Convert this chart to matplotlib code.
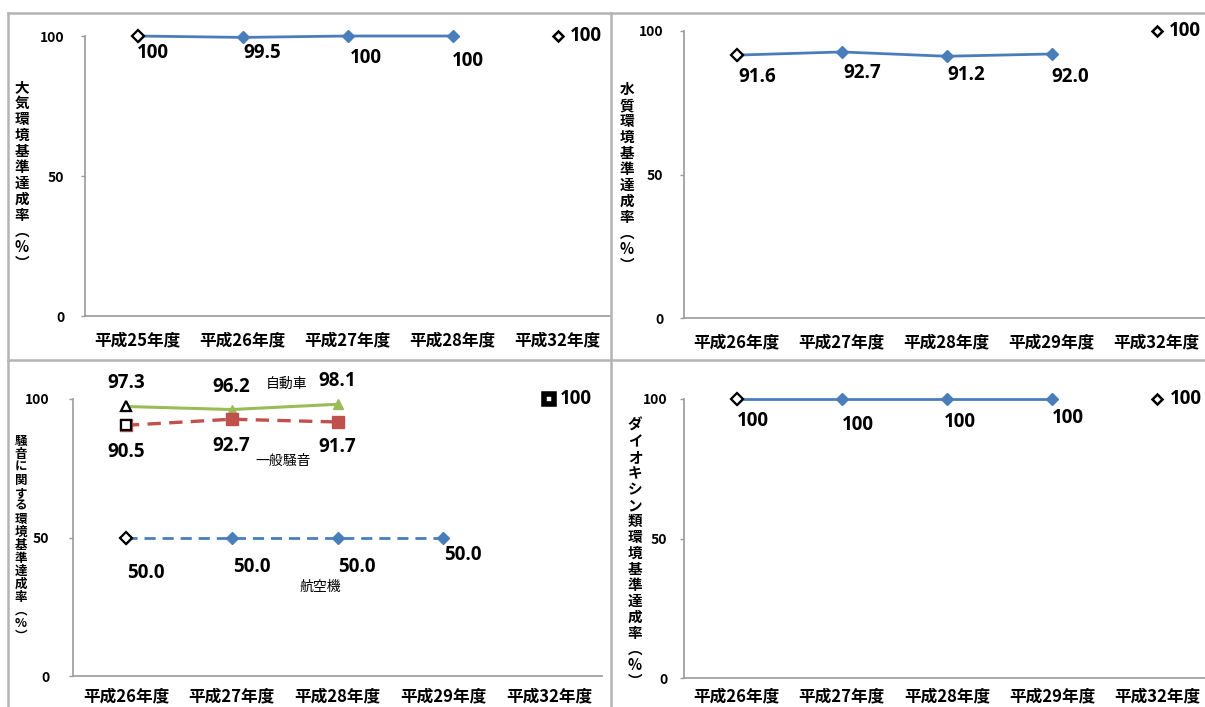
import matplotlib
matplotlib.use("Agg")
import matplotlib.pyplot as plt
from matplotlib.lines import Line2D

plt.rcParams['font.family'] = ['Noto Sans CJK JP', 'DejaVu Sans']

# ---- data ----
air_years = ['平成25年度', '平成26年度', '平成27年度', '平成28年度', '平成32年度']
air_rate = [100, 99.5, 100, 100]
air_target = 100

water_years = ['平成26年度', '平成27年度', '平成28年度', '平成29年度', '平成32年度']
water_rate = [91.6, 92.7, 91.2, 92.0]
water_target = 100

noise_years = ['平成26年度', '平成27年度', '平成28年度', '平成29年度', '平成32年度']
noise_car = [97.3, 96.2, 98.1]
noise_general = [90.5, 92.7, 91.7]
noise_aircraft = [50.0, 50.0, 50.0, 50.0]
noise_target = 100

dioxin_years = ['平成26年度', '平成27年度', '平成28年度', '平成29年度', '平成32年度']
dioxin_rate = [100, 100, 100, 100]
dioxin_target = 100

W, H = 1205, 707
BLUE = '#4a7ebb'
GREEN = '#9bbb59'
RED = '#c0504d'
NUM_FONT = ['Open Sans', 'Noto Sans CJK JP']
NUM_SIZE = 13.5
PX = 0.72  # pixels -> points at 100 dpi

fig = plt.figure(figsize=(W / 100, H / 100), dpi=100)
fig.patch.set_facecolor('white')


def make_axes(left, top, width, height):
    ax = fig.add_axes([left / W, (H - top - height) / H, width / W, height / H])
    return ax


def style_axes(ax, years, ylab, ylab_xy, ylab_size, ypad, xpad):
    ax.set_xlim(-0.5, len(years) - 0.5)
    ax.set_ylim(0, 100)
    ax.set_xticks(range(len(years)))
    ax.set_xticklabels(years, fontsize=12, fontweight='bold')
    ax.set_yticks([0, 50, 100])
    ax.set_yticklabels(['0', '50', '100'], fontsize=10, fontweight='bold')
    for s in ('top', 'right'):
        ax.spines[s].set_visible(False)
    for s in ('left', 'bottom'):
        ax.spines[s].set_color('#9a9a9a')
        ax.spines[s].set_linewidth(1.2)
    ax.tick_params(axis='x', length=0, pad=xpad)
    ax.tick_params(axis='y', length=3, width=1, color='#9a9a9a', pad=ypad)
    ax.patch.set_alpha(0)
    fig.text(ylab_xy[0] / W, 1 - ylab_xy[1] / H, '\n'.join(ylab),
             fontsize=ylab_size, fontweight='bold', ha='center', va='center',
             linespacing=1.0)


def series(ax, values, color, marker, ms, ls='-', lw=2.0):
    x = list(range(len(values)))
    ax.plot(x, values, color=color, lw=lw, ls=ls, marker=marker, ms=ms,
            markerfacecolor=color, markeredgecolor=color, clip_on=False, zorder=3)
    ax.plot([0], [values[0]], ls='none', marker=marker, ms=ms * 0.9,
            markerfacecolor='white', markeredgecolor='black', mew=1.6,
            clip_on=False, zorder=4)


def value_labels(ax, values, offsets, fmt):
    for i, (v, (dx, dy)) in enumerate(zip(values, offsets)):
        ax.annotate(fmt.format(v), (i, v), xytext=(dx * PX, -dy * PX),
                    textcoords='offset points', ha='center', va='center',
                    fontsize=NUM_SIZE, fontweight='bold', family=NUM_FONT,
                    annotation_clip=False, zorder=5)


def target(ax, idx, value, marker, ms, text_dx=12, mew=1.8):
    ax.plot([idx], [value], ls='none', marker=marker, ms=ms,
            markerfacecolor='white', markeredgecolor='black', mew=mew,
            clip_on=False, zorder=4)
    ax.annotate(f'{value:g}', (idx, value), xytext=(text_dx * PX, 0),
                textcoords='offset points', ha='left', va='center',
                fontsize=NUM_SIZE, fontweight='bold', family=NUM_FONT,
                annotation_clip=False)


# ---- 大気 ----
ax1 = make_axes(85, 36, 525, 280)
style_axes(ax1, air_years, '大気環境基準達成率︵%︶', (22, 175), 10.5, 12, 11)
series(ax1, air_rate, BLUE, 'D', 6.5)
value_labels(ax1, air_rate, [(15, 17), (20, 16), (18, 22), (15, 25)], '{:g}')
target(ax1, 4, air_target, 'D', 5.5)

# ---- 水質 ----
ax2 = make_axes(684, 31, 525, 287)
style_axes(ax2, water_years, '水質環境基準達成率︵%︶', (627, 177), 10.5, 12, 11)
series(ax2, water_rate, BLUE, 'D', 6.5)
value_labels(ax2, water_rate, [(21, 22), (21, 21), (20, 19), (19, 23)], '{:.1f}')
target(ax2, 4, water_target, 'D', 5.5)

# ---- 騒音 ----
ax3 = make_axes(73, 399, 529, 277)
style_axes(ax3, noise_years, '騒音に関する環境基準達成率︵%︶', (21, 539), 9, 14, 8)
series(ax3, noise_car, GREEN, '^', 7.5, lw=2.2)
series(ax3, noise_general, RED, 's', 8, ls=(0, (4, 2.5)), lw=2.4)
series(ax3, noise_aircraft, BLUE, 'D', 6.5, ls=(0, (4, 2.5)), lw=2.0)
value_labels(ax3, noise_car, [(0, -23), (0, -23), (0, -23)], '{:.1f}')
value_labels(ax3, noise_general, [(0, 27), (0, 27), (0, 25)], '{:.1f}')
value_labels(ax3, noise_aircraft, [(20, 35), (20, 30), (19, 30), (20, 18)], '{:.1f}')
ax3.text(1.52, 105.4, '自動車', fontsize=10, ha='center', va='center')
ax3.text(1.49, 77.6, '一般騒音', fontsize=10, ha='center', va='center')
ax3.text(1.84, 32.1, '航空機', fontsize=10, ha='center', va='center')
target(ax3, 4, noise_target, 's', 7, text_dx=11, mew=4)

# ---- ダイオキシン類 ----
ax4 = make_axes(684, 399, 526, 279)
style_axes(ax4, dioxin_years, 'ダイオキシン類環境基準達成率︵%︶', (635, 553), 10.5, 9, 7)
series(ax4, dioxin_rate, BLUE, 'D', 6.5)
value_labels(ax4, dioxin_rate, [(16, 22), (16, 26), (13, 23), (16, 19)], '{:g}')
target(ax4, 4, dioxin_target, 'D', 5.5)

# ---- panel frames ----
FRAME = '#b4b4b4'


def fline(x0, y0, x1, y1):
    fig.add_artist(Line2D([x0 / W, x1 / W], [1 - y0 / H, 1 - y1 / H],
                          color=FRAME, lw=1.8, transform=fig.transFigure))


fline(8, 13, W, 13)
fline(8, 13, 8, H)
fline(611, 13, 611, H)
fline(8, 360, W, 360)

fig.savefig('out.png', dpi=100, facecolor='white')
